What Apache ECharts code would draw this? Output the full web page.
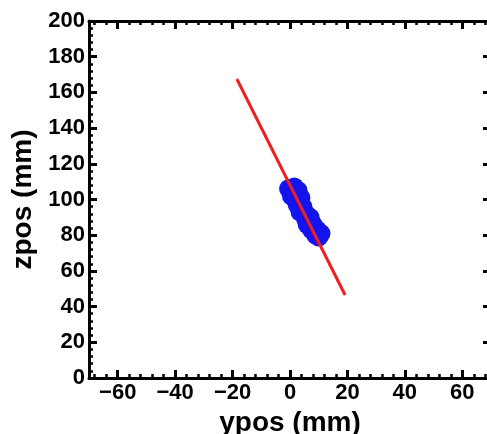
<!DOCTYPE html>
<html>
<head>
<meta charset="utf-8">
<script src="https://cdn.jsdelivr.net/npm/echarts@6/dist/echarts.min.js"></script>
<style>
html,body{margin:0;padding:0;background:#fff;}
#c{width:487px;height:434px;}
</style>
</head>
<body>
<div id="c"></div>
<script>
// ---- data ----
const xMajorTicks = [-60, -40, -20, 0, 20, 40, 60];
const xMinorTicks = [-68, -64, -56, -52, -48, -44, -36, -32, -28, -24, -16, -12, -8, -4,
                     4, 8, 12, 16, 24, 28, 32, 36, 44, 48, 52, 56, 64, 68];
const yTicks = [0, 20, 40, 60, 80, 100, 120, 140, 160, 180, 200];
// hit positions (ypos, zpos)
const hitsY = [-0.5, 1.5, 2.8, 0.5, 1.8, 3.8, 2.5, 4.5, 3.5, 5.5, 5.5, 7.0, 6.0, 8.0, 7.5, 9.5, 9.0, 10.8, 10.0];
const hitsZ = [106, 107, 105, 102, 100, 101, 97, 96, 93, 92, 89, 90, 86, 86, 83, 83, 80, 81, 79];
// fitted track end points
const fitY = [-18.5, 19.2];
const fitZ = [167.5, 46.5];

const hits = hitsY.map((v, i) => [v, hitsZ[i]]);
const fit = fitY.map((v, i) => [v, fitZ[i]]);

const chart = echarts.init(document.getElementById('c'), null, {renderer: 'canvas'});
const font = 'Liberation Sans, Arial, Helvetica, sans-serif';
const black = '#000';
const minus = v => String(v).replace('-', '\u2212');

function xAxisBase(pos, showLine) {
  return {
    type: 'value', position: pos, min: -70, max: 70,
    axisLine: {show: showLine, onZero: false, lineStyle: {color: black, width: 3}},
    splitLine: {show: false}
  };
}
const xAxes = [
  Object.assign(xAxisBase('bottom', true), {
    axisTick: {show: true, inside: true, length: 8, customValues: xMajorTicks, lineStyle: {color: black, width: 3}},
    axisLabel: {show: true, customValues: xMajorTicks, formatter: minus, color: black, fontSize: 22, fontWeight: 'bold', fontFamily: font, margin: 4},
    name: 'ypos (mm)', nameLocation: 'middle', nameGap: 31,
    nameTextStyle: {color: black, fontSize: 28, fontWeight: 'bold', fontFamily: font}
  }),
  Object.assign(xAxisBase('bottom', false), {
    axisTick: {show: true, inside: true, length: 4, customValues: xMinorTicks, lineStyle: {color: black, width: 2.5}},
    axisLabel: {show: false}
  }),
  Object.assign(xAxisBase('top', true), {
    axisTick: {show: true, inside: true, length: 8, customValues: xMajorTicks, lineStyle: {color: black, width: 3}},
    axisLabel: {show: false}
  }),
  Object.assign(xAxisBase('top', false), {
    axisTick: {show: true, inside: true, length: 4, customValues: xMinorTicks, lineStyle: {color: black, width: 2.5}},
    axisLabel: {show: false}
  })
];
function yAxisBase(pos, labels) {
  return {
    type: 'value', position: pos, min: 0, max: 200, interval: 20,
    axisLine: {show: true, onZero: false, lineStyle: {color: black, width: 3}},
    axisTick: {show: true, inside: true, length: 8, lineStyle: {color: black, width: 3}},
    minorTick: {show: true, splitNumber: 5, length: 4, lineStyle: {color: black, width: 2.5}},
    splitLine: {show: false}, minorSplitLine: {show: false},
    axisLabel: labels ? {show: true, customValues: yTicks, color: black, fontSize: 22, fontWeight: 'bold', fontFamily: font, margin: 4} : {show: false}
  };
}
const yAxes = [
  Object.assign(yAxisBase('left', true), {
    name: 'zpos (mm)', nameLocation: 'middle', nameGap: 52,
    nameTextStyle: {color: black, fontSize: 28, fontWeight: 'bold', fontFamily: font}
  }),
  yAxisBase('right', false)
];

chart.setOption({
  backgroundColor: '#fff',
  animation: false,
  grid: {left: 89, top: 21, width: 402, height: 357, containLabel: false, outerBoundsMode: 'none'},
  xAxis: xAxes,
  yAxis: yAxes,
  series: [
    {type: 'scatter', xAxisIndex: 0, yAxisIndex: 0, data: hits, symbol: 'circle', symbolSize: 19,
     itemStyle: {color: '#1414ee', opacity: 1}, z: 2},
    {type: 'line', xAxisIndex: 0, yAxisIndex: 0, data: fit, showSymbol: false, symbol: 'none',
     lineStyle: {color: '#f01e1e', width: 3}, z: 3}
  ]
});
</script>
</body>
</html>
